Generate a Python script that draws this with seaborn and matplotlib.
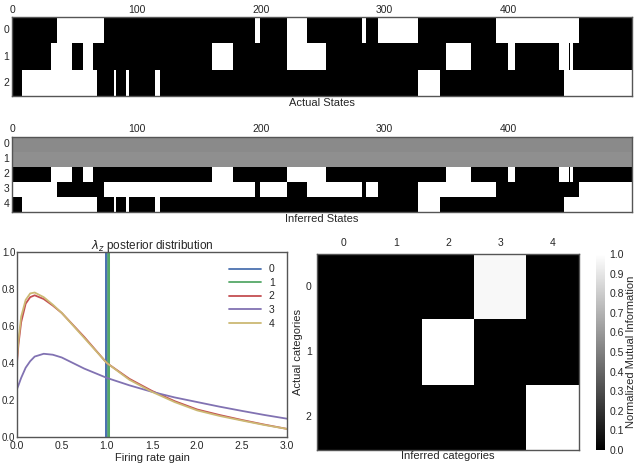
import numpy as np
import pandas as pd
import matplotlib
matplotlib.use("Agg")
import matplotlib.pyplot as plt
import seaborn as sns

# ---- data -------------------------------------------------------------
n_steps = 500
# time indices where each binary row flips (rows start at 0 = black)
actual_row0 = [36, 74, 196, 200, 222, 238, 282, 285, 295, 327, 390, 457]
actual_row1 = [31, 48, 57, 65, 161, 178, 222, 253, 350, 370, 400, 406, 441, 449, 450, 452]
actual_row2 = [8, 68, 82, 84, 92, 94, 115, 119, 327, 345, 445]

inferred_gray = [0.54, 0.56]          # rows 0 and 1 sit near 0.5
inferred_row2 = [31, 48, 57, 65, 161, 178, 222, 253, 350, 370, 400, 406, 441, 449, 450, 452]
inferred_row3_start = 1               # row 3 starts white
inferred_row3 = [36, 74, 196, 200, 222, 238, 282, 285, 295, 327, 390, 457]
inferred_row4 = [8, 68, 82, 84, 92, 94, 115, 119, 327, 345, 445]

gain_x = [0, 0.02, 0.05, 0.1, 0.15, 0.2, 0.3, 0.4, 0.5, 0.75, 1.0,
          1.25, 1.5, 1.75, 2.0, 2.25, 2.5, 2.75, 3.0]
post_2 = [0.38, 0.50, 0.62, 0.72, 0.755, 0.765, 0.745, 0.71, 0.67, 0.54, 0.40,
          0.315, 0.25, 0.195, 0.15, 0.12, 0.093, 0.068, 0.045]
post_3 = [0.255, 0.28, 0.32, 0.375, 0.41, 0.435, 0.45, 0.445, 0.43, 0.37, 0.32,
          0.28, 0.245, 0.215, 0.19, 0.165, 0.142, 0.12, 0.10]
post_4 = [0.40, 0.52, 0.65, 0.74, 0.775, 0.78, 0.755, 0.715, 0.67, 0.535, 0.40,
          0.31, 0.245, 0.19, 0.145, 0.115, 0.09, 0.066, 0.045]
spike_0_x = [0.99, 0.995, 1.0]
spike_0_y = [0.0, 40.0, 0.0]
spike_1_x = [1.015, 1.02, 1.025]
spike_1_y = [0.0, 40.0, 0.0]

nmi = [[0.0, 0.0, 0.0, 0.97, 0.0],
       [0.0, 0.0, 1.0, 0.0, 0.0],
       [0.0, 0.0, 0.0, 0.0, 1.0]]

palette = ["#4C72B0", "#55A868", "#C44E52", "#8172B2", "#CCB974"]


def binary_row(flips, start=0):
    row = np.zeros(n_steps)
    val = start
    edges = [0] + flips + [n_steps]
    for a, b in zip(edges[:-1], edges[1:]):
        row[a:b] = val
        val = 1 - val
    return row


actual = np.vstack([binary_row(actual_row0), binary_row(actual_row1),
                    binary_row(actual_row2)])
inferred = np.vstack([np.full(n_steps, inferred_gray[0]),
                      np.full(n_steps, inferred_gray[1]),
                      binary_row(inferred_row2),
                      binary_row(inferred_row3, inferred_row3_start),
                      binary_row(inferred_row4)])

# ---- style ------------------------------------------------------------
sns.set_style("white")
plt.rcParams["font.family"] = ["Liberation Sans", "DejaVu Sans"]
plt.rcParams["font.size"] = 7.5

fig = plt.figure(figsize=(6.4, 4.63), dpi=100)


def state_panel(rect, data, label):
    ax = fig.add_axes(rect)
    sns.heatmap(data, ax=ax, cmap="gray", vmin=0, vmax=1, cbar=False)
    ax.xaxis.tick_top()
    ax.set_xticks([t + 0.5 for t in range(0, 500, 100)])
    ax.set_xticklabels([str(t) for t in range(0, 500, 100)], rotation=0)
    ax.set_yticks([i + 0.5 for i in range(data.shape[0])])
    ax.set_yticklabels([str(i) for i in range(data.shape[0])], rotation=0)
    ax.tick_params(length=0, pad=2, labelsize=7.5)
    ax.set_xlabel(label, fontsize=8, labelpad=2)
    for s in ax.spines.values():
        s.set_visible(True)
        s.set_color("#555555")
        s.set_linewidth(1)
    return ax


state_panel([0.0192, 0.7933, 0.9683, 0.1693], actual, "Actual States")
state_panel([0.0192, 0.5428, 0.9683, 0.162], inferred, "Inferred States")

# ---- posterior lines ---------------------------------------------------
ax3 = fig.add_axes([0.026, 0.0555, 0.4229, 0.4009])
curves = [(spike_0_x, spike_0_y), (spike_1_x, spike_1_y),
          (gain_x, post_2), (gain_x, post_3), (gain_x, post_4)]
for i, (xs, ys) in enumerate(curves):
    sns.lineplot(x=xs, y=ys, ax=ax3, color=palette[i], lw=1.3, label=str(i),
                 sort=False, estimator=None)
ax3.set_xlim(0, 3)
ax3.set_ylim(0, 1)
ax3.set_xticks(np.arange(0, 3.01, 0.5))
ax3.set_yticks(np.arange(0, 1.01, 0.2))
ax3.tick_params(axis="x", length=0, pad=3, labelsize=7.5)
ax3.tick_params(axis="y", length=0, pad=1, labelsize=7)
ax3.set_xlabel("Firing rate gain", fontsize=8, labelpad=1)
ax3.set_title(r"$\lambda_z$ posterior distribution", fontsize=8.5, pad=2)
for s in ax3.spines.values():
    s.set_color("#555555")
    s.set_linewidth(1)
ax3.legend(loc="upper right", frameon=False, fontsize=7.5, handlelength=3,
           borderaxespad=0.8, labelspacing=0.35)

# ---- mutual information heatmap ---------------------------------------
ax4 = fig.add_axes([0.4958, 0.0281, 0.4084, 0.4233])
cax = fig.add_axes([0.9308, 0.0281, 0.0145, 0.4233])
nmi_df = pd.DataFrame(nmi, index=range(3), columns=range(5))
sns.heatmap(nmi_df, ax=ax4, cbar_ax=cax, cmap="gray", vmin=0, vmax=1,
            cbar_kws={"ticks": np.arange(0, 1.01, 0.1)})
ax4.xaxis.tick_top()
ax4.set_xticklabels([str(i) for i in range(5)], rotation=0)
ax4.set_yticklabels([str(i) for i in range(3)], rotation=0)
ax4.tick_params(length=0, pad=4, labelsize=7.5)
ax4.set_xlabel("Inferred categories", fontsize=8, labelpad=1)
ax4.set_ylabel("Actual categories", fontsize=8, labelpad=2)
for s in ax4.spines.values():
    s.set_visible(True)
    s.set_color("#555555")
    s.set_linewidth(1)
cax.tick_params(length=0, labelsize=7.5, pad=3)
cax.set_yticklabels(["%.1f" % v for v in np.arange(0, 1.01, 0.1)])
cax.set_ylabel("Normalized Mutual Information", fontsize=8, labelpad=2)

fig.savefig("out.png", dpi=100)
